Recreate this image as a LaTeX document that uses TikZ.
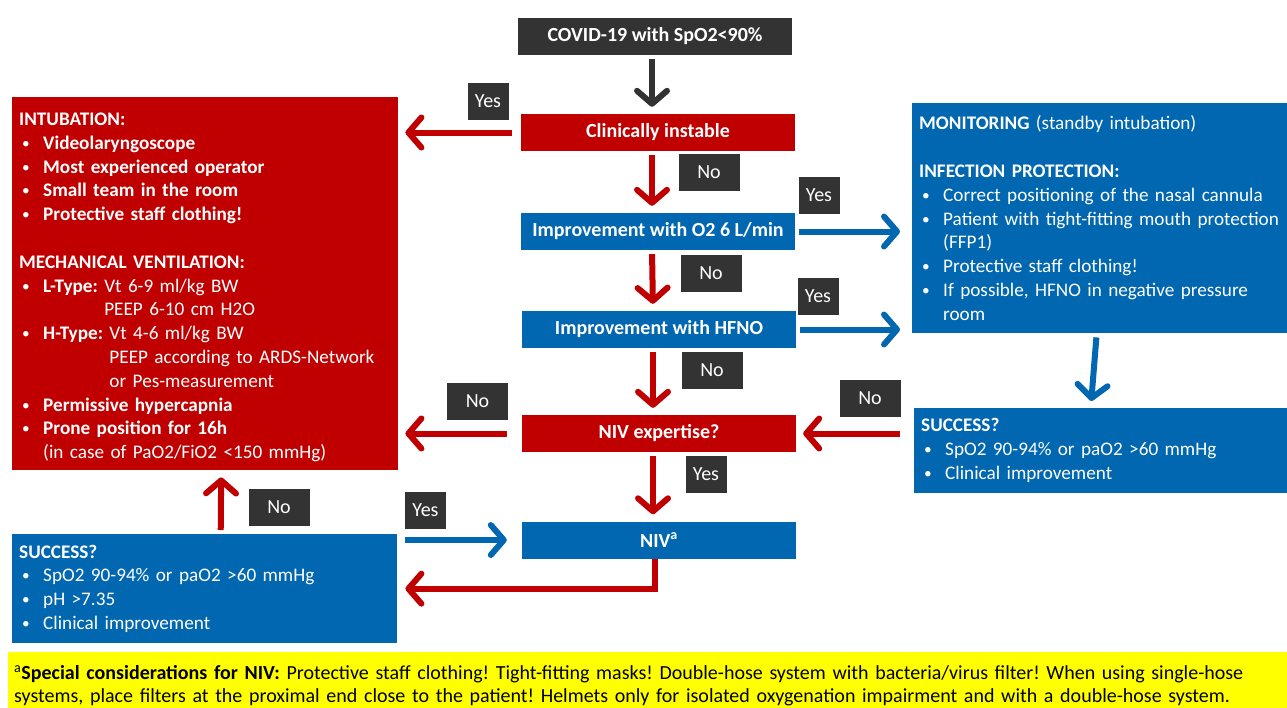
\documentclass[tikz,border=0pt]{standalone}
\usepackage{fontspec}
\setmainfont{Carlito}
\usetikzlibrary{arrows.meta, positioning, calc}

\definecolor{ecmored}{HTML}{C00000}
\definecolor{ecmoblue}{HTML}{0067B0}
\definecolor{labelgray}{HTML}{333333}
\definecolor{notebg}{HTML}{FFFF00}

\newcommand{\bul}[1]{\hspace*{3pt}\makebox[21pt][l]{\raisebox{1pt}{\scalebox{0.8}{\textbullet}}}#1}
\newcommand{\cont}{\hspace*{24pt}}
\frenchspacing

\begin{document}
\begin{tikzpicture}[
x=1pt, y=-1pt,
stepbox/.style={minimum width=274pt, minimum height=37pt, inner sep=0pt, text=white, font=\bfseries\fontsize{20}{22}\selectfont},
infobox/.style={anchor=north west, align=left, text=white, inner xsep=7pt, inner ysep=0pt, font=\fontsize{19.2}{23.8}\selectfont},
answer/.style={fill=labelgray, text=white, minimum height=37pt, inner sep=0pt, font=\fontsize{20}{22}\selectfont},
yesbox/.style={answer, minimum width=41pt},
nobox/.style={answer, minimum width=61pt},
flow/.style={line width=6pt, shorten <=4pt, shorten >=7pt, -{Straight Barb[length=13pt, width=30pt, round]}},
redflow/.style={flow, draw=ecmored},
blueflow/.style={flow, draw=ecmoblue},
darkflow/.style={flow, draw=labelgray}
]
\path[use as bounding box, fill=white] (0,0) rectangle (1287,707);

% central column
\node[stepbox, fill=labelgray] (covid) at (655,36.5) {COVID-19 with SpO2<90\%};
\node[stepbox, fill=ecmored] (clin) at (658,132.5) {Clinically instable};
\node[stepbox, fill=ecmoblue] (o2) at (658,231.5) {Improvement with O2 6 L/min};
\node[stepbox, fill=ecmoblue] (hfno) at (659,329.5) {Improvement with HFNO};
\node[stepbox, fill=ecmored] (nivx) at (659,433.5) {NIV expertise?};
\node[stepbox, fill=ecmoblue] (niv) at (659,540) {NIV\textsuperscript{a}};

% side boxes
\node[infobox, fill=ecmored, minimum width=386pt, minimum height=373pt, text width=372pt] (intub) at (12,97) {%
\rule{0pt}{20pt}\textbf{INTUBATION:}\\
\bul{\textbf{Videolaryngoscope}}\\
\bul{\textbf{Most experienced operator}}\\
\bul{\textbf{Small team in the room}}\\
\bul{\textbf{Protective staff clothing!}}\\[23.8pt]
\textbf{MECHANICAL VENTILATION:}\\
\bul{\textbf{L-Type:} Vt 6-9 ml/kg BW}\\
\cont\phantom{\textbf{L-Type:} }PEEP 6-10 cm H2O\\
\bul{\textbf{H-Type:} Vt 4-6 ml/kg BW}\\
\cont\phantom{\textbf{H-Type:} }PEEP according to ARDS-Network\\
\cont\phantom{\textbf{H-Type:} }or Pes-measurement\\
\bul{\textbf{Permissive hypercapnia}}\\
\bul{\textbf{Prone position for 16h}}\\
\cont(in case of PaO2/FiO2 <150 mmHg)};

\node[infobox, fill=ecmoblue, minimum width=375pt, minimum height=230pt, text width=375pt] (mon) at (912,103) {%
\textbf{MONITORING} (standby intubation)\\[23.8pt]
\textbf{INFECTION PROTECTION:}\\
\bul{Correct positioning of the nasal cannula}\\
\bul{Patient with tight-fitting mouth protection}\\
\cont(FFP1)\\
\bul{Protective staff clothing!}\\
\bul{If possible, HFNO in negative pressure}\\
\cont room};

\node[infobox, fill=ecmoblue, minimum width=373pt, minimum height=85pt, text width=359pt] (succR) at (914,408) {%
\textbf{SUCCESS?}\\
\bul{SpO2 90-94\% or paO2 >60 mmHg}\\
\bul{Clinical improvement}};

\node[infobox, fill=ecmoblue, minimum width=385pt, minimum height=109pt, text width=371pt] (succL) at (12,534) {%
\textbf{SUCCESS?}\\
\bul{SpO2 90-94\% or paO2 >60 mmHg}\\
\bul{pH >7.35}\\
\bul{Clinical improvement}};

\node[anchor=north west, fill=notebg, minimum width=1279pt, minimum height=55pt, inner xsep=6pt, text width=1267pt, align=left, font=\fontsize{20}{23}\selectfont] (note) at (8,652) {%
\rule{0pt}{24pt}\textsuperscript{a}\textbf{Special considerations for NIV:} Protective staff clothing! Tight-fitting masks! Double-hose system with bacteria/virus filter! When using single-hose\\
systems, place filters at the proximal end close to the patient! Helmets only for isolated oxygenation impairment and with a double-hose system.};

% answer labels
\node[yesbox] (yes1) at (488,101.5) {Yes};
\node[nobox] (no1) at (709,172.5) {No};
\node[yesbox] (yes2) at (819,195.5) {Yes};
\node[nobox] (no2) at (711,273.5) {No};
\node[yesbox] (yes3) at (818,296.5) {Yes};
\node[nobox] (no3) at (712,370.5) {No};
\node[nobox] (no4) at (477.5,401.5) {No};
\node[nobox] (no5) at (870,398.5) {No};
\node[yesbox] (yes4) at (706,474.5) {Yes};
\node[yesbox] (yes5) at (425.5,510.5) {Yes};
\node[nobox] (no6) at (279,507.5) {No};

% connectors
\draw[darkflow] ([xshift=-3pt]covid.south) -- ([xshift=-6pt]clin.north);
\draw[redflow] ([xshift=-6pt]clin.south) -- ([xshift=-6pt]o2.north);
\draw[redflow] ([xshift=-6pt]o2.south) -- ([xshift=-6pt]hfno.north);
\draw[redflow] ([xshift=-6pt]hfno.south) -- ([xshift=-6pt]nivx.north);
\draw[redflow] ([xshift=-6pt]nivx.south) -- ([xshift=-6pt]niv.north);

\draw[redflow, shorten <=9pt] (clin.west) -- (clin.west -| intub.east);
\draw[blueflow, shorten >=12pt] (o2.east) -- (o2.east -| mon.west);
\draw[blueflow, shorten >=12pt] (hfno.east) -- (hfno.east -| mon.west);
\draw[blueflow] ([xshift=-10pt]mon.south) -- ([xshift=-10pt]succR.north);
\draw[redflow, shorten <=14pt] (succR.west |- nivx.east) -- (nivx.east);
\draw[redflow, shorten <=15pt] (nivx.west) -- (nivx.west -| intub.east);
\draw[blueflow, shorten <=8pt, shorten >=15pt] (succL.east |- niv.west) -- (niv.west);
\draw[redflow, shorten <=0pt, shorten >=8pt] ([xshift=-4pt]niv.south) |- (succL.east);
\draw[redflow] ([xshift=16pt]succL.north) -- ([xshift=16pt]intub.south);

\end{tikzpicture}
\end{document}
